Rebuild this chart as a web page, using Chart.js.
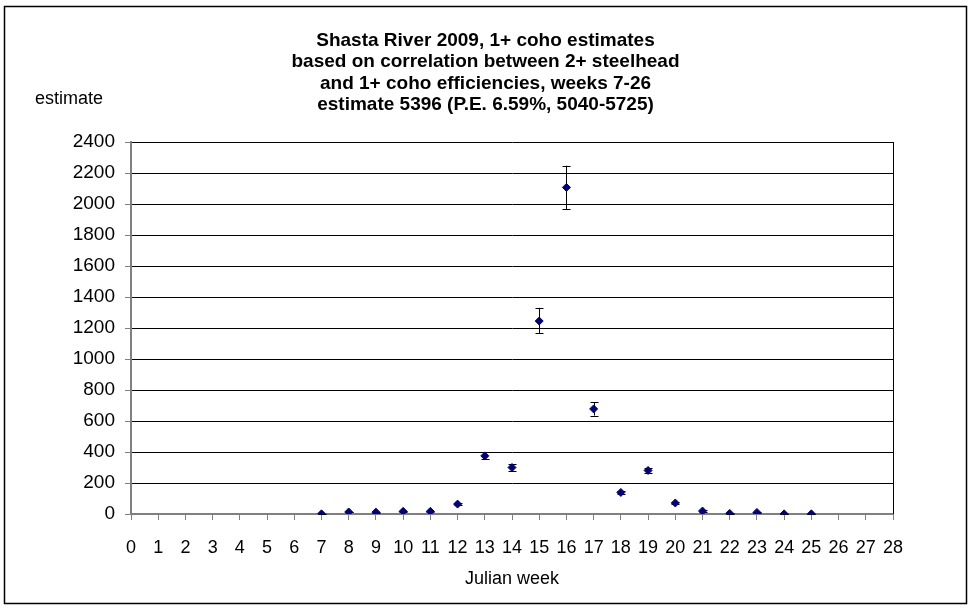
<!DOCTYPE html>
<html>
<head>
<meta charset="utf-8">
<script src="https://cdn.jsdelivr.net/npm/chart.js@4/dist/chart.umd.min.js"></script>
<style>
html,body{margin:0;padding:0;background:#fff;}
#wrap{width:971px;height:610px;position:relative;}
</style>
</head>
<body>
<div id="wrap"><canvas id="c" width="971" height="610"></canvas></div>
<script>
// Data
const weeks    = [7, 8, 9, 10, 11, 12, 13, 14, 15, 16, 17, 18, 19, 20, 21, 22, 23, 24, 25];
const estimate = [1, 13, 12, 17, 17, 64, 375, 300, 1245, 2107, 678, 139, 281, 71, 19, 4, 10, 1, 1];
const lowerCI  = [0, 10, 9, 13, 13, 58, 354, 279, 1166, 1968, 635, 130, 264, 65, 15, 2, 7, 0, 0];
const upperCI  = [2, 16, 15, 21, 21, 70, 399, 322, 1330, 2247, 721, 150, 300, 77, 23, 6, 13, 2, 2];
const titleLines = [
  "Shasta River 2009, 1+ coho estimates",
  "based on correlation between 2+ steelhead",
  "and 1+ coho efficiencies, weeks 7-26",
  "estimate 5396 (P.E. 6.59%, 5040-5725)"
];
const yAxisTitle = "estimate";
const xAxisTitle = "Julian week";
const xMin = 0, xMax = 28, yMin = 0, yMax = 2400, yStep = 200;

const FONT = "'Liberation Sans', Arial, sans-serif";

const points = weeks.map((w, i) => ({x: w, y: estimate[i]}));

const decorPlugin = {
  id: 'decor',
  beforeDraw(chart) {
    const ctx = chart.ctx;
    ctx.save();
    ctx.fillStyle = '#fff';
    ctx.fillRect(0, 0, chart.width, chart.height);
    ctx.restore();
  },
  beforeDatasetsDraw(chart) {
    const ctx = chart.ctx;
    const xs = chart.scales.x, ys = chart.scales.y;
    ctx.save();
    ctx.strokeStyle = '#000';
    ctx.lineWidth = 1;
    weeks.forEach((w, i) => {
      const px = Math.round(xs.getPixelForValue(w)) + 0.5;
      const lo = ys.getPixelForValue(lowerCI[i]);
      const hi = ys.getPixelForValue(upperCI[i]);
      ctx.beginPath();
      ctx.moveTo(px, hi); ctx.lineTo(px, lo);
      ctx.moveTo(px - 4, Math.round(hi) + 0.5); ctx.lineTo(px + 4, Math.round(hi) + 0.5);
      ctx.moveTo(px - 4, Math.round(lo) + 0.5); ctx.lineTo(px + 4, Math.round(lo) + 0.5);
      ctx.stroke();
    });
    ctx.restore();
  },
  afterDraw(chart) {
    const ctx = chart.ctx;
    const a = chart.chartArea;
    ctx.save();
    // right border of plot area
    ctx.strokeStyle = '#000';
    ctx.lineWidth = 1;
    ctx.beginPath();
    ctx.moveTo(Math.round(a.right) + 0.5, a.top);
    ctx.lineTo(Math.round(a.right) + 0.5, a.bottom);
    ctx.stroke();
    // outer frame
    ctx.strokeStyle = '#000';
    ctx.lineWidth = 1.5;
    ctx.strokeRect(4.5, 6.5, 962, 597);
    // title
    ctx.fillStyle = '#000';
    ctx.textAlign = 'center';
    ctx.textBaseline = 'alphabetic';
    ctx.font = "bold 19px " + FONT;
    const bases = [46, 67.3, 88.6, 110];
    titleLines.forEach((t, i) => ctx.fillText(t, 485.5, bases[i]));
    // axis titles
    ctx.font = "18px " + FONT;
    ctx.textAlign = 'left';
    ctx.fillText(yAxisTitle, 35, 104);
    ctx.textAlign = 'center';
    ctx.fillText(xAxisTitle, (a.left + a.right) / 2, 584);
    ctx.restore();
  }
};

new Chart(document.getElementById('c'), {
  type: 'scatter',
  data: {
    datasets: [{
      data: points,
      pointStyle: 'rectRot',
      pointRadius: 4,
      pointHoverRadius: 4,
      backgroundColor: '#000080',
      borderColor: '#000080',
      borderWidth: 1
    }]
  },
  options: {
    responsive: false,
    animation: false,
    devicePixelRatio: 1,
    layout: {padding: {left: 0, top: 142, right: 78, bottom: 0}},
    plugins: {legend: {display: false}, title: {display: false}, tooltip: {enabled: false}},
    scales: {
      x: {
        type: 'linear', min: xMin, max: xMax,
        afterFit(s) { s.height = 96; },
        ticks: {stepSize: 1, autoSkip: false, maxRotation: 0, color: '#000', padding: 17,
                font: {family: FONT, size: 18}, callback: v => String(v)},
        grid: {drawOnChartArea: false, drawTicks: true, tickLength: 6, color: '#808080', lineWidth: 1},
        border: {display: true, color: '#808080', width: 2}
      },
      y: {
        type: 'linear', min: yMin, max: yMax,
        afterFit(s) { s.width = 131; },
        ticks: {stepSize: yStep, color: '#000', padding: 10, font: {family: FONT, size: 19},
                callback: v => String(v)},
        grid: {color: '#000', lineWidth: 1, drawTicks: true, tickLength: 6, tickColor: '#808080'},
        border: {display: true, color: '#808080', width: 2}
      }
    }
  },
  plugins: [decorPlugin]
});
</script>
</body>
</html>
